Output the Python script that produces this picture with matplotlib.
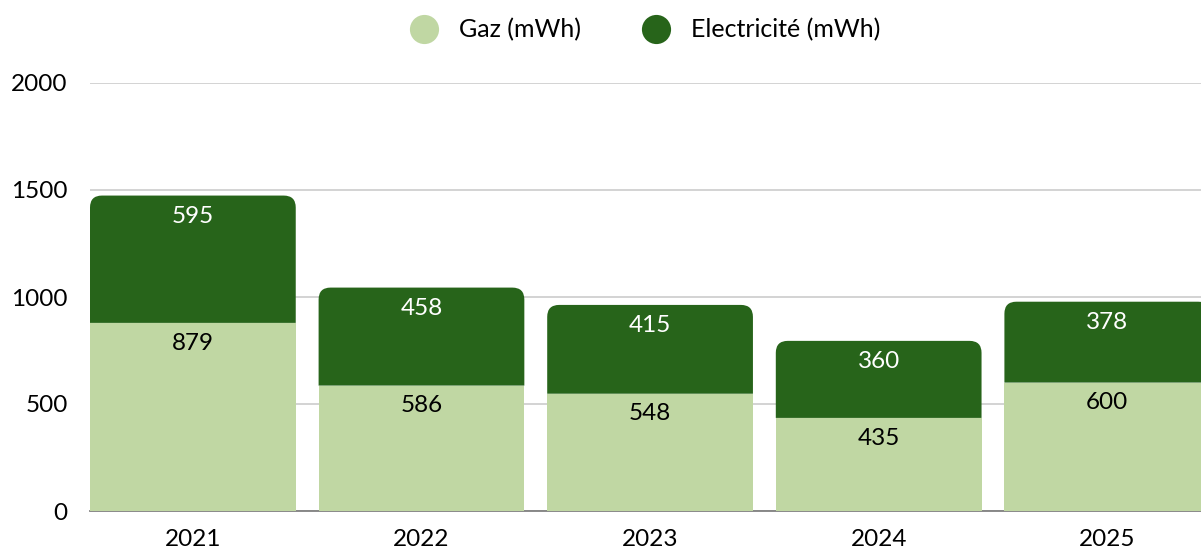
import matplotlib.pyplot as plt
from matplotlib.lines import Line2D
from matplotlib.patches import PathPatch
from matplotlib.path import Path

plt.rcParams['font.family'] = ['Lato', 'DejaVu Sans']

years = ['2021', '2022', '2023', '2024', '2025']
gaz = [879, 586, 548, 435, 600]
elec = [595, 458, 415, 360, 378]

light = '#c0d7a3'
dark = '#27641a'


def rounded_top(x0, x1, y0, y1, rx, ry):
    """Rectangle path with only the two top corners rounded."""
    verts = [
        (x0, y0), (x0, y1 - ry), (x0, y1), (x0 + rx, y1),
        (x1 - rx, y1), (x1, y1), (x1, y1 - ry), (x1, y0), (x0, y0),
    ]
    codes = [
        Path.MOVETO, Path.LINETO, Path.CURVE3, Path.CURVE3,
        Path.LINETO, Path.CURVE3, Path.CURVE3, Path.LINETO, Path.CLOSEPOLY,
    ]
    return Path(verts, codes)


fig = plt.figure(figsize=(12.01, 5.49), dpi=100)
ax = fig.add_axes([90 / 1201, 38 / 549, 1 - 90 / 1201, 428 / 549])

x = list(range(len(years)))
width = 0.9
totals = [g + e for g, e in zip(gaz, elec)]

ax.set_xlim(-0.45, 4.41)
ax.set_ylim(0, 2000)

# corner radius of 12 px, expressed in data units
radius = 12
rx = radius / 228.7
ry = radius / (428 / 2000)

ax.bar(x, gaz, width=width, color=light, zorder=3)

for xi, g, tot in zip(x, gaz, totals):
    path = rounded_top(xi - width / 2, xi + width / 2, g, tot, rx, ry)
    ax.add_patch(PathPatch(path, facecolor=dark, edgecolor='none', zorder=3))

for xi, g, tot, e in zip(x, gaz, totals, elec):
    ax.annotate(str(e), (xi, tot), xytext=(0, -15), textcoords='offset points',
                ha='center', va='center', color='white', fontsize=17.5, zorder=4)
    ax.annotate(str(g), (xi, g), xytext=(0, -14.5), textcoords='offset points',
                ha='center', va='center', color='black', fontsize=17.5, zorder=4)

ax.set_yticks([0, 500, 1000, 1500, 2000])
ax.set_xticks(x)
ax.set_xticklabels(years)
ax.tick_params(axis='both', length=0, labelsize=17.5, colors='black')
ax.tick_params(axis='x', pad=13)
ax.tick_params(axis='y', pad=16)
ax.grid(axis='y', color='#d0d0d0', linewidth=1.3, zorder=0)
ax.set_axisbelow(True)
for side in ['top', 'right', 'left']:
    ax.spines[side].set_visible(False)
ax.spines['bottom'].set_color('#808080')
ax.spines['bottom'].set_linewidth(1.3)
ax.spines['bottom'].set_zorder(1)

handles = [
    Line2D([], [], marker='o', linestyle='none', markersize=21,
           markerfacecolor=light, markeredgecolor='none', label='Gaz (mWh)'),
    Line2D([], [], marker='o', linestyle='none', markersize=21,
           markerfacecolor=dark, markeredgecolor='none', label='Electricité (mWh)'),
]
fig.legend(handles=handles, loc='center', bbox_to_anchor=(640 / 1201, 1 - 30 / 549),
           ncol=2, frameon=False, fontsize=18, handletextpad=0.4, columnspacing=2.0)

fig.savefig('out.png', dpi=100)
